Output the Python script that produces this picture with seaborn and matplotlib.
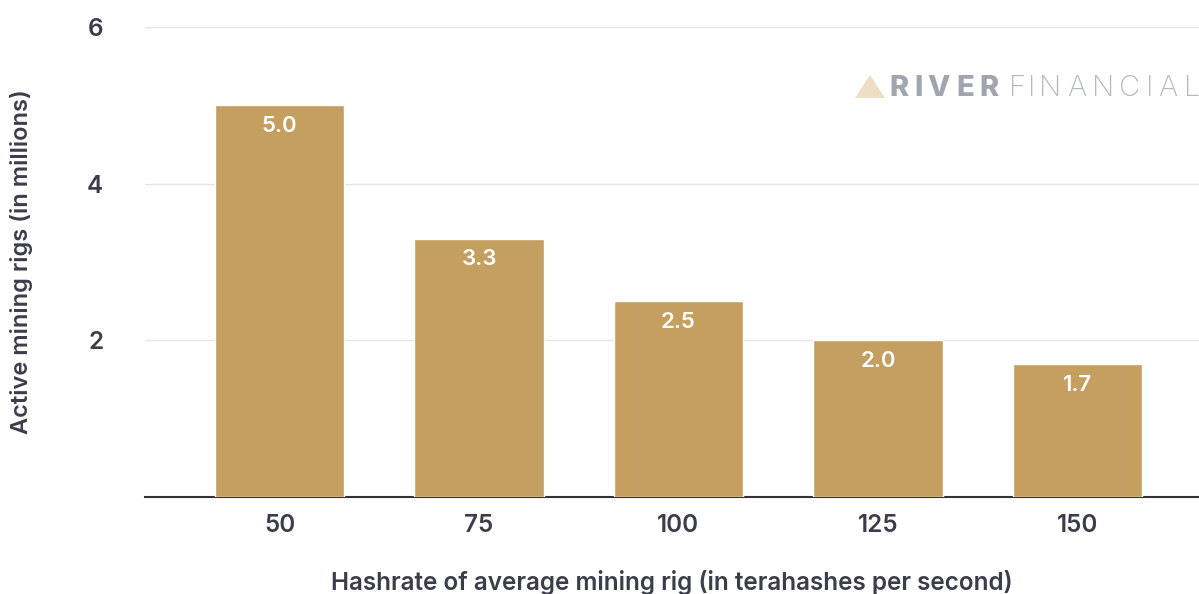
import pandas as pd
import numpy as np
import matplotlib
matplotlib.use("Agg")
import matplotlib.pyplot as plt
import seaborn as sns
from matplotlib.patches import Polygon

# data
hashrates = ["50", "75", "100", "125", "150"]
rigs = [5.0, 3.3, 2.5, 2.0, 1.7]

df = pd.DataFrame({"hashrate": hashrates, "rigs": rigs})

sns.set_style("white")
plt.rcParams["font.family"] = ["Inter", "DejaVu Sans"]

bar_color = "#C49F60"
text_color = "#3b3e4a"

fig = plt.figure(figsize=(11.99, 5.94), dpi=100)
ax = fig.add_axes([145 / 1199, 97 / 594, 1 - 145 / 1199, 470 / 594])

sns.barplot(x="hashrate", y="rigs", data=df, color=bar_color, width=0.65,
            saturation=1, ax=ax, zorder=3)

for p, v in zip(ax.patches, rigs):
    ax.annotate(f"{v:.1f}", (p.get_x() + p.get_width() / 2, p.get_height()),
                xytext=(0, -15), textcoords="offset points", ha="center", va="center",
                color="white", fontsize=16, fontweight="semibold")

ax.set_ylim(0, 6)
ax.set_xlim(-0.675, 4.61)
ax.set_yticks([2, 4, 6])
ax.yaxis.grid(True, color="#e6e6e6", linewidth=1, zorder=0)
ax.set_axisbelow(True)
for s in ["top", "right", "left"]:
    ax.spines[s].set_visible(False)
ax.spines["bottom"].set_color("#333333")
ax.spines["bottom"].set_linewidth(1.5)
ax.tick_params(axis="both", length=0, labelsize=17.5, labelcolor=text_color)
ax.tick_params(axis="y", pad=30)
ax.tick_params(axis="x", pad=12)
for t in ax.get_xticklabels() + ax.get_yticklabels():
    t.set_fontweight("semibold")

ax.set_xlabel("Hashrate of average mining rig (in terahashes per second)",
              fontsize=17.5, fontweight="semibold", color=text_color, labelpad=24)
ax.set_ylabel("Active mining rigs (in millions)", fontsize=17,
              fontweight="semibold", color=text_color)
ax.yaxis.set_label_coords(-0.106, 0.5)

# watermark (letter-spaced logo text)
wy = 1 - 88 / 594
river_x = [899, 918.5, 938.5, 965, 989]
for ch, x in zip("RIVER", river_x):
    fig.text(x / 1199, wy, ch, fontsize=21, fontweight="heavy",
             color="#a2a4af", va="center", ha="center")
fin_x = [1018, 1032, 1050, 1077, 1103.5, 1130, 1150, 1168, 1192]
for ch, x in zip("FINANCIAL", fin_x):
    fig.text(x / 1199, wy, ch, fontsize=21, fontweight="light",
             color="#b6b8c0", va="center", ha="center")
tri = Polygon([[855 / 1199, 1 - 98 / 594], [885 / 1199, 1 - 98 / 594],
               [870 / 1199, 1 - 75 / 594]], closed=True, transform=fig.transFigure,
              facecolor="#ecdfc6", edgecolor="none")
fig.patches.append(tri)

plt.savefig("out.png", dpi=100)
